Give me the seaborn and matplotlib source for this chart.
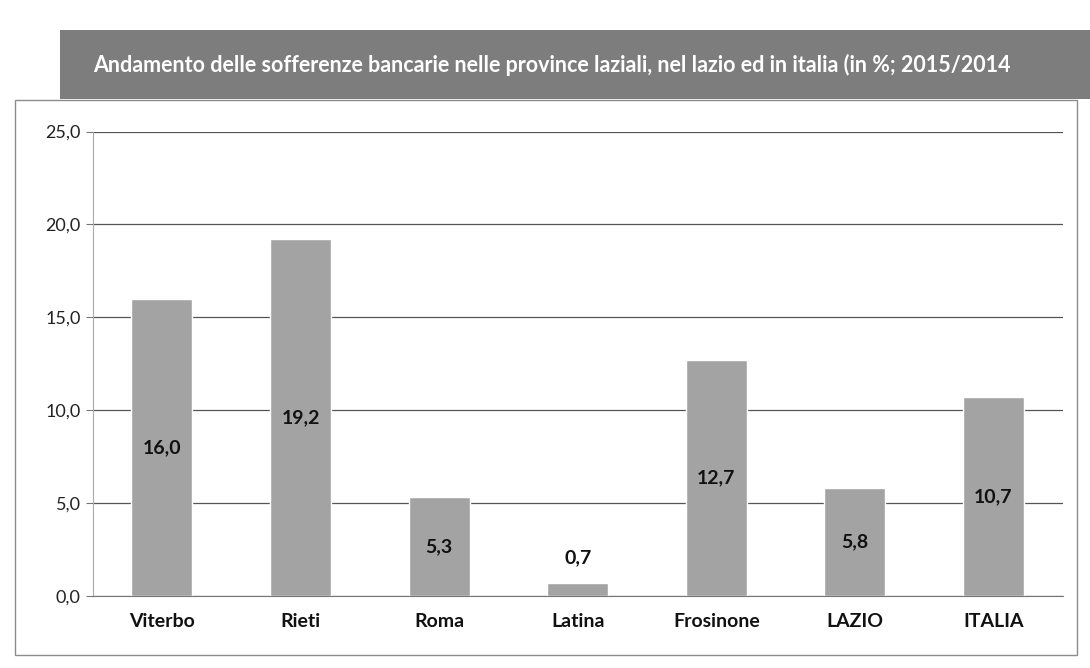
import pandas as pd
import matplotlib.pyplot as plt
import seaborn as sns
from matplotlib.patches import Rectangle

# dati: variazione sofferenze bancarie 2015/2014 (%)
categorie = ["Viterbo", "Rieti", "Roma", "Latina", "Frosinone", "LAZIO", "ITALIA"]
valori = [16.0, 19.2, 5.3, 0.7, 12.7, 5.8, 10.7]
titolo = "Andamento delle sofferenze bancarie nelle province laziali, nel lazio ed in italia (in %; 2015/2014"

df = pd.DataFrame({"Area": categorie, "Valore": valori})

sns.set_style("white")
plt.rcParams["font.family"] = ["Lato", "DejaVu Sans"]

fig = plt.figure(figsize=(10.9, 6.68), dpi=100)

# riquadro esterno del grafico
fig.patches.append(Rectangle((0.014, 0.02), 0.974, 0.83, transform=fig.transFigure,
                             fill=False, edgecolor="#8c8c8c", linewidth=1.0))
# fascia del titolo
fig.patches.append(Rectangle((0.055, 0.852), 0.945, 0.103, transform=fig.transFigure,
                             facecolor="#7d7d7d", edgecolor="none"))
fig.text(0.085, 0.903, titolo, color="white", fontsize=15.5, fontweight="bold",
         ha="left", va="center")

ax = fig.add_axes([0.085, 0.108, 0.89, 0.695])
sns.barplot(data=df, x="Area", y="Valore", color="#a3a3a3", width=0.44,
            saturation=1, ax=ax)

ax.set_ylim(0, 25)
ax.set_yticks([0, 5, 10, 15, 20, 25])
ax.set_yticklabels([f"{v:.1f}".replace(".", ",") for v in [0, 5, 10, 15, 20, 25]],
                   fontsize=13, color="#222222")
ax.yaxis.grid(True, color="#555555", linewidth=0.9)
ax.set_axisbelow(True)
ax.set_xlabel("")
ax.set_ylabel("")
ax.tick_params(axis="x", labelsize=14, length=0, pad=12)
for t in ax.get_xticklabels():
    t.set_fontweight("bold")
    t.set_color("#111111")
ax.set_xticks([i + 0.5 for i in range(len(categorie))], minor=True)
ax.tick_params(axis="x", which="minor", length=4, color="#777777", direction="out")
ax.tick_params(axis="y", length=5, color="#777777", left=True)

for s in ["top", "right"]:
    ax.spines[s].set_visible(False)
ax.spines["left"].set_color("#aaaaaa")
ax.spines["bottom"].set_color("#777777")

# etichette al centro delle barre
for i, v in enumerate(valori):
    lab = f"{v:.1f}".replace(".", ",")
    if v < 2:
        ax.annotate(lab, (i, v), xytext=(0, 12), textcoords="offset points",
                    ha="center", va="bottom", fontsize=14, fontweight="bold", color="#111111")
    else:
        ax.text(i, v / 2, lab, ha="center", va="center", fontsize=14,
                fontweight="bold", color="#111111")

plt.savefig("out.png", dpi=100)
plt.close()
